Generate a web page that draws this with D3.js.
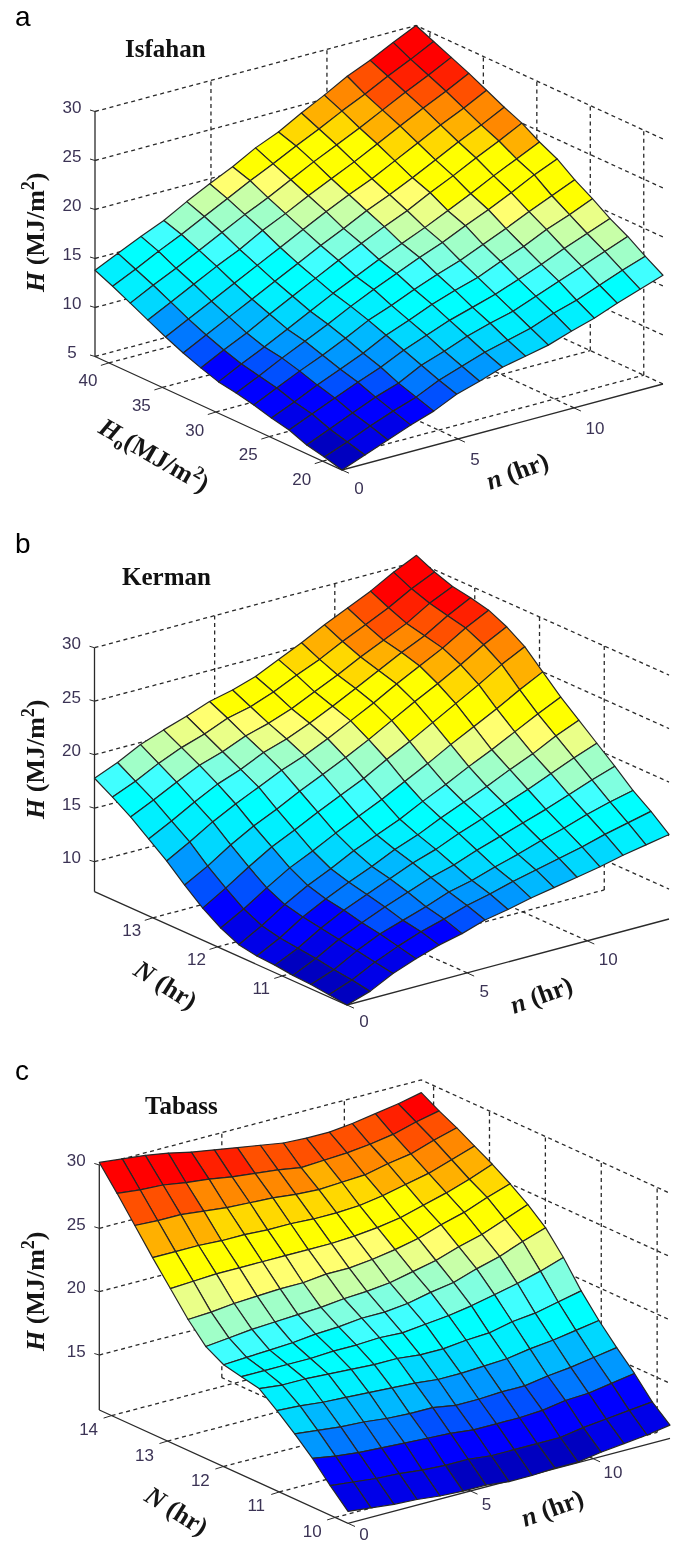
<!DOCTYPE html>
<html>
<head>
<meta charset="utf-8">
<script src="https://cdnjs.cloudflare.com/ajax/libs/d3/7.8.5/d3.min.js"></script>
<style>
  html, body { margin: 0; padding: 0; background: #fff; }
  svg { display: block; filter: blur(0.35px); }
  .tick-label { font-family: "Liberation Sans", Arial, sans-serif; font-size: 17px; fill: #3b3355; text-anchor: middle; dominant-baseline: central; }
  .panel-letter { font-family: "Liberation Sans", Arial, sans-serif; font-size: 28px; fill: #000; }
  .title { font-family: "Liberation Serif", serif; font-weight: bold; font-size: 25px; fill: #111; }
  .axis-label { font-family: "Liberation Serif", serif; font-weight: bold; font-size: 26px; fill: #151515; }
</style>
</head>
<body>
<svg id="viz"></svg>
<script>
// H (MJ/m2). Rows run from the back N edge to the front one, columns from n = 0 to the last n
var isfahanH = [
  [13.8,14.9,16.0,17.0,18.3,19.5,20.6,21.9,22.9,24.2,25.4,26.7,27.7,28.9,30.0],
  [13.0,14.1,15.3,16.4,17.6,18.8,20.0,21.1,22.3,23.4,24.6,25.7,26.9,28.0,29.2],
  [12.1,13.3,14.4,15.6,16.8,18.0,19.1,20.3,21.5,22.6,23.7,24.9,26.1,27.2,28.4],
  [11.2,12.4,13.6,14.8,15.9,17.2,18.3,19.5,20.6,21.7,22.9,24.1,25.3,26.4,27.6],
  [10.3,11.5,12.7,13.9,15.1,16.3,17.5,18.7,19.8,20.8,22.0,23.2,24.4,25.5,26.7],
  [9.5,10.7,11.9,13.1,14.3,15.5,16.7,17.8,19.0,20.0,21.1,22.3,23.5,24.6,25.8],
  [8.8,10.0,11.1,12.4,13.6,14.8,16.0,17.1,18.2,19.2,20.4,21.5,22.7,23.8,25.0],
  [8.2,9.4,10.5,11.7,12.9,14.1,15.2,16.3,17.3,18.3,19.4,20.5,21.7,22.8,23.9],
  [7.9,9.0,10.2,11.3,12.4,13.6,14.7,15.7,16.7,17.6,18.7,19.7,20.8,22.0,23.0],
  [7.5,8.6,9.7,10.7,11.8,13.0,13.9,14.9,15.8,16.6,17.6,18.6,19.7,20.7,21.7],
  [7.0,8.0,9.1,10.1,11.1,12.3,13.2,14.2,15.0,15.7,16.7,17.6,18.7,19.6,20.6],
  [6.6,7.6,8.6,9.6,10.5,11.6,12.5,13.4,14.1,14.8,15.7,16.6,17.6,18.5,19.4],
  [5.9,6.9,7.9,8.9,9.7,10.9,11.7,12.6,13.3,13.9,14.8,15.7,16.6,17.5,18.4],
  [5.5,6.4,7.4,8.3,9.1,10.2,11.0,11.8,12.4,13.0,13.9,14.6,15.5,16.4,17.2],
  [5.0,5.9,6.8,7.7,8.5,9.6,10.3,11.1,11.6,12.1,12.9,13.6,14.5,15.3,16.1]
];
var kermanH = [
  [17.8,18.7,19.8,20.6,21.3,22.1,22.6,23.3,24.3,25.3,26.4,27.4,28.4,29.6,30.6],
  [16.8,17.7,18.8,19.7,20.4,21.3,21.8,22.6,23.6,24.5,25.6,26.6,27.6,28.8,29.8],
  [15.7,16.7,17.8,18.8,19.5,20.4,21.0,21.8,22.8,23.8,24.9,25.9,26.9,28.2,29.2],
  [14.4,15.5,16.7,17.8,18.6,19.6,20.3,21.2,22.2,23.3,24.4,25.5,26.5,27.8,28.9],
  [13.1,14.3,15.6,16.7,17.7,18.7,19.5,20.5,21.6,22.7,23.9,25.0,26.1,27.4,28.5],
  [11.6,12.8,14.2,15.4,16.4,17.5,18.5,19.5,20.6,21.8,23.0,24.1,25.3,26.6,27.7],
  [10.2,11.5,12.9,14.2,15.2,16.3,17.3,18.3,19.5,20.6,21.8,23.0,24.2,25.5,26.6],
  [9.1,10.3,11.7,13.0,14.0,15.1,16.1,17.1,18.2,19.3,20.5,21.6,22.7,23.9,25.0],
  [8.3,9.5,10.9,12.1,13.1,14.2,15.1,16.0,17.1,18.1,19.2,20.2,21.3,22.4,23.4],
  [8.0,9.1,10.5,11.6,12.6,13.5,14.5,15.3,16.3,17.2,18.1,19.1,20.0,21.1,22.0],
  [7.9,8.9,10.2,11.3,12.2,13.1,14.0,14.7,15.6,16.4,17.2,18.0,18.9,19.8,20.6],
  [7.7,8.7,9.9,10.9,11.8,12.6,13.4,14.0,14.8,15.5,16.2,16.9,17.7,18.5,19.2],
  [7.6,8.4,9.6,10.6,11.3,12.0,12.8,13.3,14.0,14.6,15.3,15.9,16.6,17.2,17.7],
  [7.4,8.2,9.3,10.2,11.0,11.6,12.3,12.8,13.4,13.9,14.4,14.9,15.5,16.0,16.5],
  [7.2,7.9,9.0,9.8,10.5,11.0,11.7,12.1,12.6,13.0,13.4,13.8,14.3,14.7,15.1]
];
var tabassH = [
  [30.2,30.0,29.8,29.5,29.1,28.8,28.5,28.2,27.9,27.8,27.8,28.0,28.3,28.6,29.0],
  [28.4,28.2,28.1,27.8,27.6,27.3,27.1,26.9,26.6,26.7,26.8,27.0,27.3,27.8,28.2],
  [26.5,26.4,26.4,26.2,26.0,25.9,25.8,25.6,25.5,25.6,25.7,26.1,26.4,27.0,27.5],
  [24.6,24.6,24.6,24.5,24.5,24.4,24.4,24.3,24.3,24.4,24.7,25.1,25.5,26.1,26.7],
  [22.8,22.9,23.0,23.0,23.0,23.0,23.0,23.0,23.1,23.3,23.6,24.1,24.6,25.2,25.9],
  [21.0,21.1,21.3,21.4,21.5,21.5,21.7,21.7,21.9,22.2,22.6,23.2,23.7,24.4,25.0],
  [19.5,19.7,19.9,20.0,20.1,20.2,20.4,20.5,20.7,21.1,21.5,22.1,22.6,23.3,24.0],
  [18.7,18.8,18.9,19.0,19.2,19.3,19.5,19.5,19.7,20.1,20.4,21.0,21.5,22.2,22.8],
  [18.4,18.4,18.4,18.4,18.5,18.5,18.6,18.5,18.7,18.9,19.2,19.6,20.0,20.5,21.1],
  [18.1,17.9,17.9,17.8,17.7,17.6,17.6,17.4,17.4,17.6,17.7,18.1,18.3,18.7,19.1],
  [17.0,16.9,16.7,16.6,16.5,16.4,16.3,16.1,16.1,16.2,16.3,16.6,16.8,17.1,17.4],
  [15.8,15.6,15.4,15.3,15.1,15.0,15.0,14.7,14.7,14.8,14.8,15.1,15.3,15.6,15.9],
  [14.5,14.2,14.0,13.9,13.8,13.7,13.6,13.4,13.4,13.4,13.5,13.8,13.9,14.2,14.5],
  [13.0,12.8,12.6,12.5,12.3,12.2,12.2,12.0,12.0,12.0,12.0,12.3,12.5,12.7,12.9],
  [11.6,11.4,11.2,11.1,10.9,10.8,10.8,10.6,10.6,10.7,10.7,11.0,11.2,11.4,11.7]
];

var isfahanHTicks = [5, 10, 15, 20, 25, 30];
var kermanHTicks = [10, 15, 20, 25, 30];
var tabassHTicks = [15, 20, 25, 30];
var isfahanBackTicks = [40, 35, 30, 25, 20];
var kermanBackTicks = [13, 12, 11];
var tabassBackTicks = [14, 13, 12, 11, 10];
var nTicks = [0, 5, 10];

// colour steps of the surface, breaks are fractions of each surface's own H range
var levelBreaks = [.048, .104, .164, .192, .224, .256, .288, .32, .36, .424, .46, .492, .528, .56, .588, .616, .72, .752, .792, .832, .872, .904];
var levelColors = ['#0000c0', '#0000e8', '#0000ff', '#0050ff', '#0078ff', '#0098ff', '#00b8ff', '#00d8ff', '#00f0ff', '#00ffff', '#40ffff', '#80ffe0',
                   '#a0ffc8', '#c8ffa8', '#eaff88', '#ffff70', '#ffff00', '#ffd800', '#ffb000', '#ff8800', '#ff5000', '#ff2000', '#ff0000'];

/**Initial setting */
var width = 680;
var height = 1544;
var svg = d3.select('#viz').attr('width', width).attr('height', height);

var panels = [
  {
    letter: 'a', letterY: 26, title: 'Isfahan', titleX: 125, titleY: 57,
    grid: isfahanH, hTicks: isfahanHTicks, backTicks: isfahanBackTicks,
    x0: 95, y0: 356.5, xSpan: 247, ySpan: 113.5, nxSpan: 321, nySpan: -86,
    backMax: 41.3, backMin: 18.2, nMax: 13.84, floorH: 5, pxPerH: 9.8, colorDomain: [5, 30],
    backOff: [-21, 18], nOff: [17, 18]
  },
  {
    letter: 'b', letterY: 553, title: 'Kerman', titleX: 122, titleY: 585,
    grid: kermanH, hTicks: kermanHTicks, backTicks: kermanBackTicks,
    x0: 94.5, y0: 891.7, xSpan: 252.5, ySpan: 113.3, nxSpan: 322, nySpan: -86,
    backMax: 13.9, backMin: 10, nMax: 13.4, floorH: 7.2, pxPerH: 10.7, colorDomain: [7.2, 30.6],
    backOff: [-21, 13], nOff: [17, 16]
  },
  {
    letter: 'c', letterY: 1080, title: 'Tabass', titleX: 145, titleY: 1114,
    grid: tabassH, hTicks: tabassHTicks, backTicks: tabassBackTicks,
    x0: 99.3, y0: 1410, xSpan: 248.7, ySpan: 113.3, nxSpan: 322, nySpan: -85,
    backMax: 14.22, backMin: 9.77, nMax: 13.14, floorH: 10.66, pxPerH: 12.67, colorDomain: [10.6, 30.2],
    backOff: [-23, 14], nOff: [16, 11]
  }
];

var line = d3.line();

function drawPanel(p){
  var g = svg.append('g');

  // parallel projection: each data axis gets its own x and y scale
  var xBack = d3.scaleLinear().domain([p.backMax, p.backMin]).range([p.x0, p.x0 + p.xSpan]);
  var yBack = d3.scaleLinear().domain([p.backMax, p.backMin]).range([p.y0, p.y0 + p.ySpan]);
  var xN = d3.scaleLinear().domain([0, p.nMax]).range([0, p.nxSpan]);
  var yN = d3.scaleLinear().domain([0, p.nMax]).range([0, p.nySpan]);
  var yH = d3.scaleLinear().domain([p.floorH, 30]).range([0, -(30 - p.floorH) * p.pxPerH]);
  var rowValue = d3.scaleLinear().domain([0, p.grid.length - 1]).range([p.backMax, p.backMin]);
  var colValue = d3.scaleLinear().domain([0, p.grid[0].length - 1]).range([0, p.nMax]);
  var level = d3.scaleLinear().domain(p.colorDomain).range([0, 1]);
  var color = d3.scaleThreshold().domain(levelBreaks).range(levelColors);

  function project(back, n, h){
    return [xBack(back) + xN(n), yBack(back) + yN(n) + yH(h)];
  }

  function dashed(points){
    g.append('path').attr('d', line(points)).attr('fill', 'none')
     .attr('stroke', '#2a2a2a').attr('stroke-width', 1.3).attr('stroke-dasharray', '4,3.5');
  }
  function solid(points, w){
    g.append('path').attr('d', line(points)).attr('fill', 'none')
     .attr('stroke', '#2a2a2a').attr('stroke-width', w || 1.3);
  }

  /************** back walls and floor **************/
  p.hTicks.forEach(function(h){
    dashed([project(p.backMax, 0, h), project(p.backMax, p.nMax, h), project(p.backMin, p.nMax, h)]);
  });
  nTicks.slice(1).forEach(function(n){
    dashed([project(p.backMax, n, p.floorH), project(p.backMax, n, 30)]);
    dashed([project(p.backMin, n, p.floorH), project(p.backMax, n, p.floorH)]);
  });
  p.backTicks.forEach(function(b){
    dashed([project(b, p.nMax, p.floorH), project(b, p.nMax, 30)]);
    dashed([project(b, 0, p.floorH), project(b, p.nMax, p.floorH)]);
  });

  /************** solid axes and ticks **************/
  solid([project(p.backMax, 0, p.floorH), project(p.backMax, 0, 30)]);
  solid([project(p.backMax, 0, p.floorH), project(p.backMin, 0, p.floorH), project(p.backMin, p.nMax, p.floorH)]);

  p.hTicks.forEach(function(h){
    var c = project(p.backMax, 0, h);
    solid([[c[0] - 5, c[1] - 1.5], [c[0], c[1]]], 1);
    g.append('text').attr('class', 'tick-label').attr('x', c[0] - 23).attr('y', c[1] - 4).text(h);
  });
  p.backTicks.forEach(function(b){
    var c = project(b, 0, p.floorH);
    solid([[c[0] - 8, c[1] + 2.5], [c[0], c[1]]], 1);
    g.append('text').attr('class', 'tick-label').attr('x', c[0] + p.backOff[0]).attr('y', c[1] + p.backOff[1]).text(b);
  });
  nTicks.forEach(function(n){
    var c = project(p.backMin, n, p.floorH);
    solid([[c[0], c[1]], [c[0] + 7, c[1] + 3.2]], 1);
    g.append('text').attr('class', 'tick-label').attr('x', c[0] + p.nOff[0] + (n == 10 ? 4 : 0)).attr('y', c[1] + p.nOff[1] + (n == 0 ? 0 : 3)).text(n);
  });

  /************** surface, far cells first **************/
  var cells = [];
  d3.range(p.grid.length - 1).forEach(function(k){
    d3.range(p.grid[0].length - 2, -1, -1).forEach(function(j){
      cells.push({k: k, j: j});
    });
  });
  g.selectAll('path.cell').data(cells).enter().append('path')
    .attr('class', 'cell')
    .attr('d', function(d){
      var corners = [[d.k, d.j], [d.k, d.j + 1], [d.k + 1, d.j + 1], [d.k + 1, d.j]];
      return line(corners.map(function(c){
        return project(rowValue(c[0]), colValue(c[1]), p.grid[c[0]][c[1]]);
      })) + 'Z';
    })
    .attr('fill', function(d){
      return color(level(d3.mean([p.grid[d.k][d.j], p.grid[d.k][d.j + 1], p.grid[d.k + 1][d.j], p.grid[d.k + 1][d.j + 1]])));
    })
    .attr('stroke', '#262626').attr('stroke-width', 1.2).attr('stroke-linejoin', 'round');

  /************** text **************/
  g.append('text').attr('class', 'panel-letter').attr('x', 15).attr('y', p.letterY).text(p.letter);
  g.append('text').attr('class', 'title').attr('x', p.titleX).attr('y', p.titleY).text(p.title);
}

panels.forEach(drawPanel);

// rotated axis titles; superscripts and subscripts are tspans
function axisLabel(x, y, angle, parts){
  var t = svg.append('text').attr('class', 'axis-label').attr('transform', 'translate(' + x + ',' + y + ') rotate(' + angle + ')');
  parts.forEach(function(part){
    var s = t.append('tspan').text(part.text);
    if(part.italic) s.attr('font-style', 'italic');
    if(part.dy) s.attr('dy', part.dy);
    if(part.size) s.attr('font-size', part.size);
  });
}
var hLabel = [{text: 'H', italic: true}, {text: ' (MJ/m'}, {text: '2', dy: -10, size: 18}, {text: ')', dy: 10}];
var nLabel = [{text: 'n', italic: true}, {text: ' (hr)'}];
var bigNLabel = [{text: 'N', italic: true}, {text: ' (hr)'}];

axisLabel(44, 292, -90, hLabel);
axisLabel(44, 819, -90, hLabel);
axisLabel(44, 1351, -90, hLabel);
axisLabel(490, 490, -20, nLabel);
axisLabel(514, 1014, -20, nLabel);
axisLabel(525, 1527, -20, nLabel);
axisLabel(97, 432, 30, [{text: 'H', italic: true}, {text: 'o', dy: 5, size: 18}, {text: '(MJ/m', dy: -5}, {text: '2', dy: -10, size: 18}, {text: ')', dy: 10}]);
axisLabel(132, 974, 32, bigNLabel);
axisLabel(143, 1500, 32, bigNLabel);
</script>
</body>
</html>
